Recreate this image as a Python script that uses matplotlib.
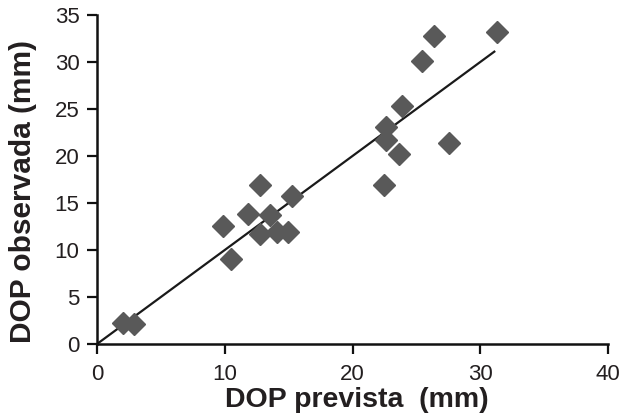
import matplotlib
matplotlib.use("Agg")
import matplotlib.pyplot as plt
import numpy as np

plt.rcParams['font.family'] = ['Liberation Sans', 'DejaVu Sans']

# Predicted vs observed DOP (mm)
dop_prevista = [2.06, 2.90, 9.84, 10.47, 11.84, 12.76, 12.76, 13.54, 14.07, 14.97,
                15.24, 22.49, 22.60, 22.60, 23.62, 23.87, 25.46, 26.40, 27.58, 31.33]
dop_observada = [2.20, 2.12, 12.53, 8.99, 13.87, 16.88, 11.75, 13.69, 11.92, 11.92,
                 15.71, 16.95, 23.07, 21.66, 20.17, 25.34, 30.15, 32.80, 21.41, 33.15]

# 1:1 reference line
line_x = [0, 31.1]
line_y = [0, 31.1]

x_ticks = [0, 10, 20, 30, 40]
y_ticks = [0, 5, 10, 15, 20, 25, 30, 35]

fig = plt.figure(figsize=(6.23, 4.16), dpi=100)
ax = fig.add_axes([97 / 623, 72 / 416, (608 - 97) / 623, (344 - 15) / 416])

ax.plot(line_x, line_y, color='#1a1a1a', lw=1.6, zorder=2)
ax.plot(dop_prevista, dop_observada, linestyle='none', marker='D', ms=11.5,
        color='#595959', mec='#595959', zorder=3, clip_on=False)

ax.set_xlim(0, 40)
ax.set_ylim(0, 35)
ax.set_xticks(x_ticks)
ax.set_yticks(y_ticks)

for side in ('top', 'right'):
    ax.spines[side].set_visible(False)
for side in ('left', 'bottom'):
    ax.spines[side].set_linewidth(1.8)
    ax.spines[side].set_color('#111111')

ax.tick_params(direction='out', length=7.5, width=1.6, color='#111111',
               labelsize=16, labelcolor='#231f20')
ax.tick_params(axis='x', pad=6.7)
ax.tick_params(axis='y', pad=5.2)

ax.set_xlabel('DOP prevista  (mm)', fontsize=20.5, fontweight='bold',
              color='#231f20')
ax.set_ylabel('DOP observada (mm)', fontsize=21.5, fontweight='bold',
              color='#231f20')
ax.xaxis.set_label_coords(0.509, -0.131)
ax.yaxis.set_label_coords(-0.117, 0.465)

fig.savefig('out.png', dpi=100)
